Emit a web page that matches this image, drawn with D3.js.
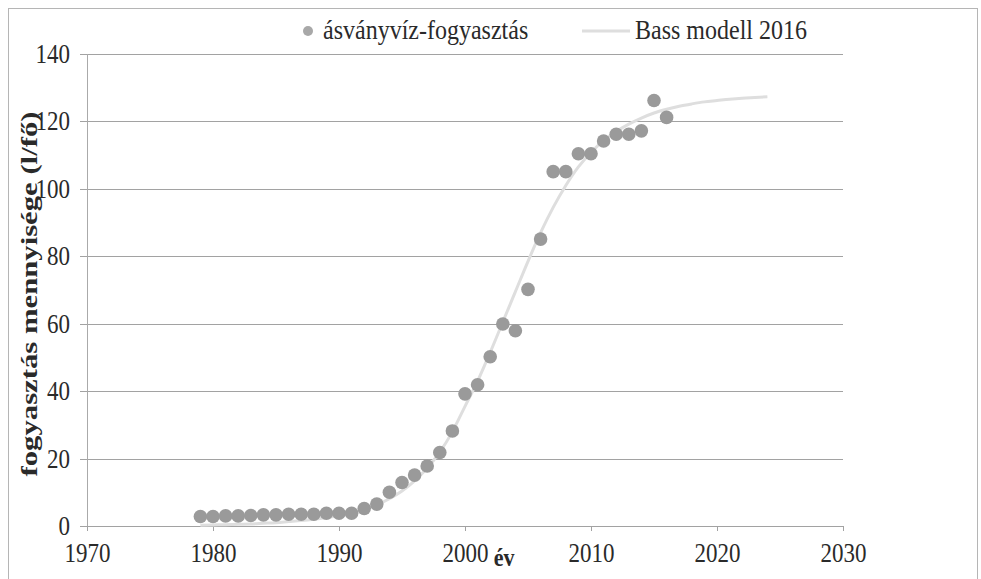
<!DOCTYPE html>
<html>
<head>
<meta charset="utf-8">
<script src="https://cdn.jsdelivr.net/npm/d3@7"></script>
<style>
  html, body { margin: 0; padding: 0; background: #fff; }
  svg { display: block; }
  text { font-family: "Liberation Serif", "Times New Roman", serif; fill: #2a2a2a; }
</style>
</head>
<body>
<svg id="chart" width="981" height="579"></svg>
<script>
// ---- data ----
const obsYears = [1979,1980,1981,1982,1983,1984,1985,1986,1987,1988,1989,1990,1991,1992,1993,1994,1995,1996,1997,1998,1999,2000,2001,2002,2003,2004,2005,2006,2007,2008,2009,2010,2011,2012,2013,2014,2015,2016];
const obsValues = [2.8,2.8,3.0,3.0,3.1,3.3,3.3,3.5,3.5,3.5,3.8,3.8,3.8,5.2,6.5,10.0,12.9,15.1,17.8,21.8,28.2,39.2,41.9,50.2,59.9,57.9,70.2,85.1,105.1,105.1,110.4,110.4,114.2,116.2,116.2,117.2,126.2,121.2];
const bassYears = [1979,1980,1981,1982,1983,1984,1985,1986,1987,1988,1989,1990,1991,1992,1993,1994,1995,1996,1997,1998,1999,2000,2001,2002,2003,2004,2005,2006,2007,2008,2009,2010,2011,2012,2013,2014,2015,2016,2017,2018,2019,2020,2021,2022,2023,2024];
const bassValues = [0.2,0.3,0.4,0.5,0.6,0.8,1.0,1.3,1.6,2.0,2.5,3.1,3.9,4.9,6.3,8.1,10.4,13.4,17.2,21.9,28.0,35.5,43.0,51.5,60.5,69.5,78.5,87.0,94.5,101.0,106.5,110.8,114.3,117.0,119.2,121.0,122.5,123.6,124.5,125.2,125.8,126.2,126.6,126.9,127.1,127.3];
const xTicks = [1970,1980,1990,2000,2010,2020,2030];
const yTicks = [0,20,40,60,80,100,120,140];
const seriesNames = ["ásványvíz-fogyasztás", "Bass modell 2016"];
const xTitle = "év";
const yTitle = "fogyasztás mennyisége (l/fő)";

// ---- layout ----
const svg = d3.select("#chart");
const mLeft = 87, mRight = 843, mTop = 54, mBottom = 526;
const x = d3.scaleLinear().domain([1970, 2030]).range([mLeft, mRight]);
const y = d3.scaleLinear().domain([0, 140]).range([mBottom, mTop]);
const stretch = "scale(1,1.15)";

// outer border
svg.append("rect").attr("x", 8.5).attr("y", 8.5).attr("width", 969).attr("height", 590)
  .attr("fill", "none").attr("stroke", "#b5b5b5").attr("stroke-width", 1);

// gridlines + y axis
const yAxis = d3.axisLeft(y).tickValues(yTicks).tickSize(mRight - mLeft + 7).tickPadding(10);
const gy = svg.append("g").attr("transform", `translate(${mRight},0)`).call(yAxis);
gy.select(".domain").remove();
gy.selectAll(".tick line").attr("stroke", "#a2a2a2").attr("stroke-width", 1).attr("shape-rendering", "crispEdges");
gy.selectAll(".tick text").attr("font-size", 23).attr("font-family", "Liberation Serif")
  .attr("fill", "#2a2a2a").attr("transform", stretch);

// vertical axis line
svg.append("line").attr("x1", mLeft + 0.5).attr("x2", mLeft + 0.5).attr("y1", mTop).attr("y2", mBottom)
  .attr("stroke", "#aaaaaa").attr("shape-rendering", "crispEdges");

// x axis
const xAxis = d3.axisBottom(x).tickValues(xTicks).tickFormat(d3.format("d")).tickSize(5).tickSizeOuter(0).tickPadding(10);
const gx = svg.append("g").attr("transform", `translate(0,${mBottom})`).call(xAxis);
gx.select(".domain").attr("stroke", "#a2a2a2").attr("shape-rendering", "crispEdges");
gx.selectAll(".tick line").attr("stroke", "#a2a2a2").attr("shape-rendering", "crispEdges");
gx.selectAll(".tick text").attr("font-size", 23).attr("font-family", "Liberation Serif")
  .attr("fill", "#2a2a2a").attr("transform", stretch);

// Bass model line
const line = d3.line().x((d, i) => x(bassYears[i])).y(d => y(d)).curve(d3.curveMonotoneX);
svg.append("path").datum(bassValues).attr("d", line)
  .attr("fill", "none").attr("stroke", "#dedede").attr("stroke-width", 3);

// observed points
svg.append("g").selectAll("circle").data(obsValues).join("circle")
  .attr("cx", (d, i) => x(obsYears[i])).attr("cy", d => y(d)).attr("r", 6.8)
  .attr("fill", "#9a9a9a");

// legend
const lg = svg.append("g");
lg.append("circle").attr("cx", 308).attr("cy", 31).attr("r", 5).attr("fill", "#a8a8a8");
lg.append("text").attr("transform", `translate(323,39) ${stretch}`).attr("font-size", 24).text(seriesNames[0]);
lg.append("line").attr("x1", 582).attr("x2", 630).attr("y1", 31).attr("y2", 31)
  .attr("stroke", "#dedede").attr("stroke-width", 3);
lg.append("text").attr("transform", `translate(635,39) ${stretch}`).attr("font-size", 24).text(seriesNames[1]);

// axis titles
svg.append("text").attr("transform", `translate(504,566) ${stretch}`).attr("text-anchor", "middle")
  .attr("font-size", 22).attr("font-weight", "bold").attr("fill", "#1a1a1a").text(xTitle);
svg.append("text").attr("transform", "translate(37,294) scale(1,1.28) rotate(-90)").attr("text-anchor", "middle")
  .attr("font-size", 24).attr("font-weight", "bold").attr("fill", "#1a1a1a").text(yTitle);
</script>
</body>
</html>
